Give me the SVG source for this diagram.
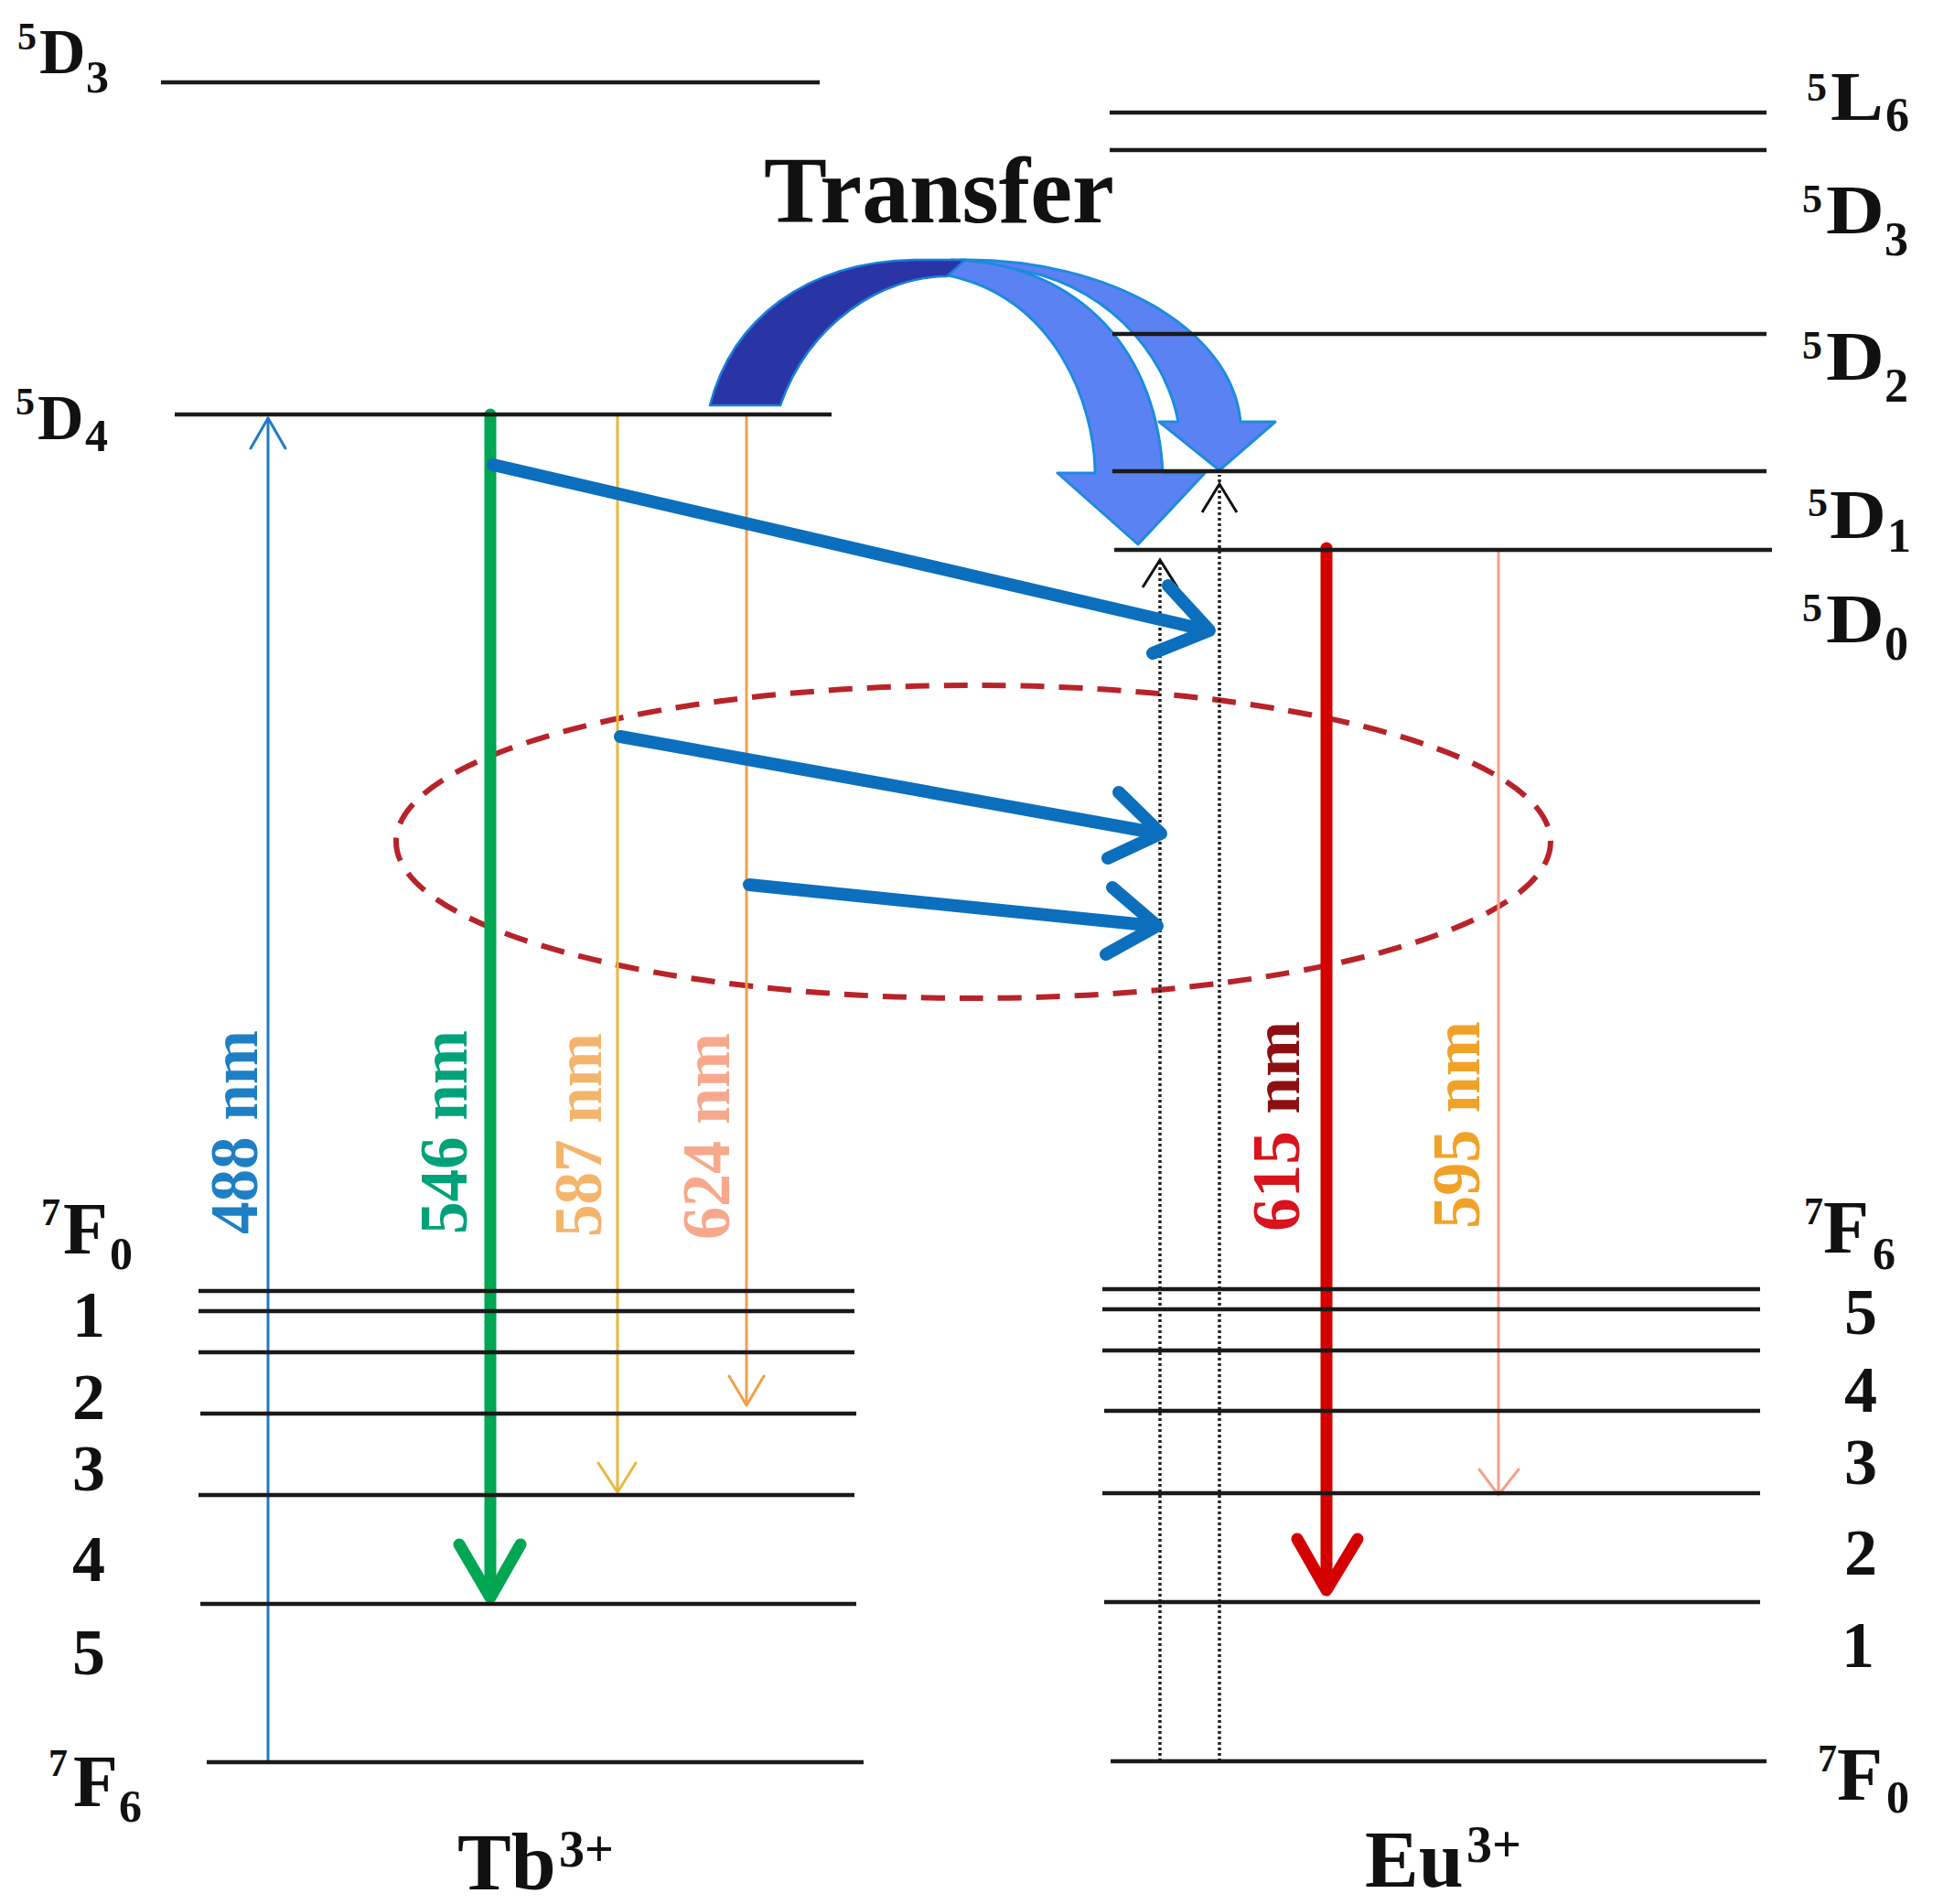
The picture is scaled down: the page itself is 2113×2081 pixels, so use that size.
<svg xmlns="http://www.w3.org/2000/svg" width="2113" height="2081" viewBox="0 0 2113 2081">
<style>
text{font-family:"Liberation Serif","Times New Roman",serif;font-weight:bold;fill:#111}
.lvl{stroke:#1a1a1a;stroke-width:4.5;fill:none}
.thin{fill:none;stroke-width:3;stroke-linecap:round;stroke-linejoin:round}
.thick{fill:none;stroke-width:13;stroke-linecap:round;stroke-linejoin:round}
.blue{fill:none;stroke:#0B6FBD;stroke-width:14;stroke-linecap:round;stroke-linejoin:round}
.dot{fill:none;stroke:#222;stroke-width:3.5;stroke-dasharray:3 3}
.caret{fill:none;stroke:#111;stroke-width:3;stroke-linejoin:miter}
.tr{fill:#5B82F2;stroke:#1C8BE0;stroke-width:3;stroke-linejoin:round}
.big{font-size:70px}
.sup{font-size:42px}
.sub{font-size:50px}
.rbig{font-size:76px}
.rsup{font-size:44px}
.rsub{font-size:52px}
.num{font-size:72px;text-anchor:middle}
.wl{font-size:74px}
.c488{fill:#1F7FC4}
.c546{fill:#00A27A}
.c587{fill:#F4B46C}
.c624{fill:#F7A88C}
.c615a{fill:#D8141E}
.c615b{fill:#8E0F12}
.c595{fill:#F0A228}
</style>
<rect width="2113" height="2081" fill="#fff"/>

<g id="ellipse">
<ellipse cx="1064" cy="920" rx="631" ry="171" fill="none" stroke="#B8232A" stroke-width="6" stroke-dasharray="26 16"/>
</g>

<g id="connectors">
<!-- Tb 488 absorption -->
<line class="thin" stroke="#1E7AC8" x1="293" y1="1926" x2="293" y2="457"/>
<polyline class="thin" stroke="#1E7AC8" points="274,490 293,457 312,490"/>
<!-- Tb 546 -->
<line class="thick" stroke="#00A651" x1="536" y1="453" x2="536" y2="1742"/>
<polyline class="thick" stroke="#00A651" points="502,1688 536,1746 569,1688"/>
<!-- Tb 587 -->
<line class="thin" stroke="#E8B83A" x1="675" y1="453" x2="675" y2="1630"/>
<polyline class="thin" stroke="#E8B83A" points="654,1599 675,1631 695,1599"/>
<!-- Tb 624 -->
<line class="thin" stroke="#F0A048" x1="816" y1="453" x2="816" y2="1535"/>
<polyline class="thin" stroke="#F0A048" points="797,1504 816,1536 835,1504"/>
<!-- Eu 615 -->
<line class="thick" stroke="#D40000" x1="1450" y1="599" x2="1450" y2="1735"/>
<polyline class="thick" stroke="#D40000" points="1418,1682 1450,1738 1484,1682"/>
<!-- Eu 595 -->
<line class="thin" stroke="#F6A08A" stroke-width="2.5" x1="1638" y1="601" x2="1638" y2="1633"/>
<polyline class="thin" stroke="#F6A08A" stroke-width="2.5" points="1617,1606 1638,1634 1660,1606"/>
<!-- dotted excitations -->
<line class="dot" x1="1268" y1="1925" x2="1268" y2="614"/>
<polyline class="caret" points="1249,642 1268,612 1287,642"/>
<line class="dot" x1="1333" y1="1925" x2="1333" y2="519"/>
<polyline class="caret" points="1314,560 1333,529 1352,560"/>
<!-- Tb -> Eu energy transfer arrows -->
<line class="blue" x1="539" y1="508" x2="1320" y2="689"/>
<polyline class="blue" points="1277,640 1322,689 1260,714"/>
<line class="blue" x1="678" y1="805" x2="1267" y2="911"/>
<polyline class="blue" points="1223,866 1269,911 1211,938"/>
<line class="blue" x1="819" y1="967" x2="1263" y2="1012"/>
<polyline class="blue" points="1216,970 1265,1012 1209,1043"/>
<!-- curved transfer arrows -->
<path class="tr" d="M 1050,284 C 1212,282 1347,360 1356,461 L 1394,461 L 1333,514 L 1267,461 L 1288,461 C 1274,385 1205,305 1100,293 Z"/>
<path class="tr" d="M 1040,284 C 1165,286 1264,370 1271,517 L 1317,517 L 1244,595 L 1156,517 L 1197,517 C 1197,445 1155,322 1031,300 Z"/>
<path fill="#2A35A5" stroke="#1B7DDC" stroke-width="2.5" stroke-linejoin="round" d="M 776,443 C 800,350 880,286 1000,284 L 1055,284 L 1035,302 C 965,302 885,352 853,443 Z"/>
</g>

<g id="tb-levels">
<g id="tb-5D3"><line class="lvl" x1="176" y1="90" x2="896" y2="90"/></g>
<g id="tb-5D4"><line class="lvl" x1="191" y1="453" x2="909" y2="453"/></g>
<g id="tb-7F0"><line class="lvl" x1="217" y1="1411" x2="934" y2="1411"/></g>
<g id="tb-7F1"><line class="lvl" x1="217" y1="1433" x2="934" y2="1433"/></g>
<g id="tb-7F2"><line class="lvl" x1="217" y1="1478" x2="934" y2="1478"/></g>
<g id="tb-7F3"><line class="lvl" x1="219" y1="1545" x2="936" y2="1545"/></g>
<g id="tb-7F4"><line class="lvl" x1="217" y1="1634" x2="934" y2="1634"/></g>
<g id="tb-7F5"><line class="lvl" x1="219" y1="1753" x2="936" y2="1753"/></g>
<g id="tb-7F6"><line class="lvl" x1="226" y1="1926" x2="944" y2="1926"/></g>
</g>

<g id="eu-levels">
<g id="eu-5L6a"><line class="lvl" x1="1213" y1="123" x2="1931" y2="123"/></g>
<g id="eu-5L6b"><line class="lvl" x1="1213" y1="164" x2="1931" y2="164"/></g>
<g id="eu-5D2"><line class="lvl" x1="1216" y1="365" x2="1931" y2="365"/></g>
<g id="eu-5D1"><line class="lvl" x1="1216" y1="515" x2="1931" y2="515"/></g>
<g id="eu-5D0"><line class="lvl" x1="1218" y1="601" x2="1937" y2="601"/></g>
<g id="eu-7F6"><line class="lvl" x1="1205" y1="1409" x2="1924" y2="1409"/></g>
<g id="eu-7F5"><line class="lvl" x1="1205" y1="1431" x2="1924" y2="1431"/></g>
<g id="eu-7F4"><line class="lvl" x1="1205" y1="1476" x2="1924" y2="1476"/></g>
<g id="eu-7F3"><line class="lvl" x1="1207" y1="1542" x2="1924" y2="1542"/></g>
<g id="eu-7F2"><line class="lvl" x1="1205" y1="1632" x2="1924" y2="1632"/></g>
<g id="eu-7F1"><line class="lvl" x1="1207" y1="1751" x2="1924" y2="1751"/></g>
<g id="eu-7F0"><line class="lvl" x1="1214" y1="1925" x2="1931" y2="1925"/></g>
</g>

<g id="labels">
<text x="835" y="243" font-size="104" textLength="383" lengthAdjust="spacingAndGlyphs">Transfer</text>
<!-- left top -->
<text class="sup" x="19" y="54">5</text><text class="big" x="43" y="80">D</text><text class="sub" x="94" y="101">3</text>
<text class="sup" x="17" y="453">5</text><text class="big" x="41" y="480">D</text><text class="sub" x="93" y="493">4</text>
<!-- left bottom -->
<text class="sup" x="45" y="1339">7</text><text font-size="80" x="69" y="1370">F</text><text class="sub" x="120" y="1387">0</text>
<text class="num" x="97" y="1461">1</text>
<text class="num" x="97" y="1551">2</text>
<text class="num" x="97" y="1629">3</text>
<text class="num" x="97" y="1728">4</text>
<text class="num" x="97" y="1830">5</text>
<text class="sup" x="53" y="1941">7</text><text font-size="80" x="80" y="1974">F</text><text class="sub" x="130" y="1991">6</text>
<text x="500" y="2065" font-size="88">Tb</text><text x="611" y="2040" font-size="56">3+</text>
<!-- right top -->
<text class="rsup" x="1975" y="110">5</text><text class="rbig" x="2001" y="131" textLength="58" lengthAdjust="spacingAndGlyphs">L</text><text class="rsub" x="2061" y="143">6</text>
<text class="rsup" x="1970" y="232">5</text><text class="rbig" x="1996" y="255" textLength="64" lengthAdjust="spacingAndGlyphs">D</text><text class="rsub" x="2060" y="279">3</text>
<text class="rsup" x="1970" y="392">5</text><text class="rbig" x="1996" y="415" textLength="64" lengthAdjust="spacingAndGlyphs">D</text><text class="rsub" x="2060" y="439">2</text>
<text class="rsup" x="1976" y="564">5</text><text class="rbig" x="2000" y="588" textLength="62" lengthAdjust="spacingAndGlyphs">D</text><text class="rsub" x="2063" y="603">1</text>
<text class="rsup" x="1970" y="679">5</text><text class="rbig" x="1996" y="702" textLength="64" lengthAdjust="spacingAndGlyphs">D</text><text class="rsub" x="2060" y="721">0</text>
<!-- right bottom -->
<text class="sup" x="1972" y="1338">7</text><text font-size="82" x="1993" y="1369">F</text><text class="sub" x="2047" y="1387">6</text>
<text class="num" x="2034" y="1458">5</text>
<text class="num" x="2034" y="1543">4</text>
<text class="num" x="2034" y="1622">3</text>
<text class="num" x="2034" y="1721">2</text>
<text class="num" x="2031" y="1822">1</text>
<text class="sup" x="1987" y="1936">7</text><text font-size="82" x="2008" y="1967">F</text><text class="sub" x="2062" y="1981">0</text>
<text x="1492" y="2062" font-size="88">Eu</text><text x="1603" y="2035" font-size="56">3+</text>
<!-- wavelengths -->
<text class="wl c488" transform="translate(281,1349) rotate(-90)" textLength="223" lengthAdjust="spacingAndGlyphs">488 nm</text>
<text class="wl c546" transform="translate(510,1349) rotate(-90)" textLength="223" lengthAdjust="spacingAndGlyphs">546 nm</text>
<text class="wl c587" transform="translate(657,1352) rotate(-90)" textLength="223" lengthAdjust="spacingAndGlyphs">587 nm</text>
<text class="wl c624" transform="translate(797,1355) rotate(-90)" textLength="226" lengthAdjust="spacingAndGlyphs">624 nm</text>
<text class="wl" transform="translate(1420,1346) rotate(-90)" textLength="230" lengthAdjust="spacingAndGlyphs"><tspan class="c615a">615 </tspan><tspan class="c615b">nm</tspan></text>
<text class="wl c595" transform="translate(1617,1343) rotate(-90)" textLength="227" lengthAdjust="spacingAndGlyphs">595 nm</text>
</g>
</svg>
